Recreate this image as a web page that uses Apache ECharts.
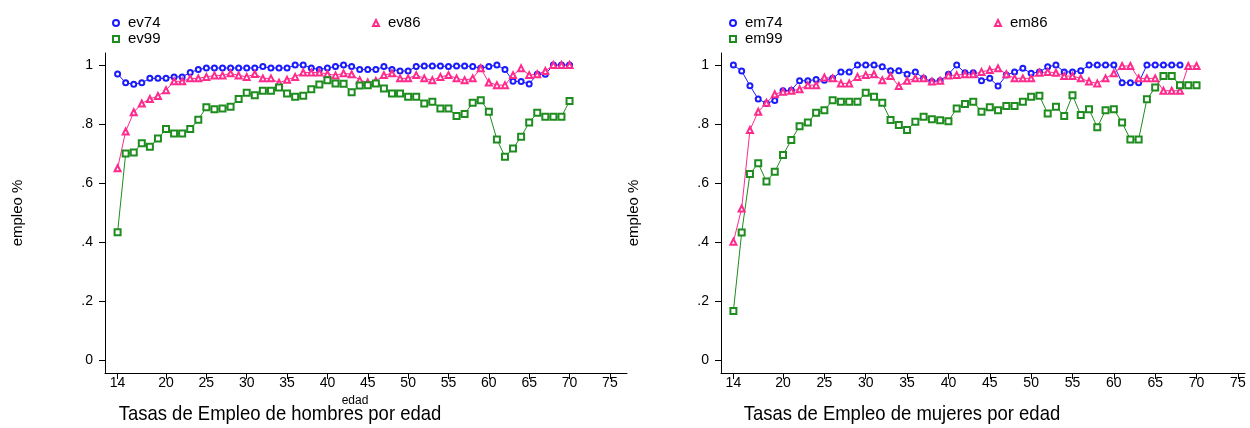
<!DOCTYPE html>
<html><head><meta charset="utf-8">
<script src="https://cdn.jsdelivr.net/npm/echarts@6/dist/echarts.min.js"></script>
<style>html,body{margin:0;padding:0;background:#fff}#c{width:1250px;height:428px}</style>
</head><body><div id="c"></div>
<script>
// ---- data ----
const ages = [14,15,16,17,18,19,20,21,22,23,24,25,26,27,28,29,30,31,32,33,34,35,36,37,38,39,40,41,42,43,44,45,46,47,48,49,50,51,52,53,54,55,56,57,58,59,60,61,62,63,64,65,66,67,68,69,70];
const xTicks = [14,20,25,30,35,40,45,50,55,60,65,70,75];
const yTicks = [0,0.2,0.4,0.6,0.8,1];
const yTickLabels = ['0','.2','.4','.6','.8','1'];
const titles = ['Tasas de Empleo de hombres por edad', 'Tasas de Empleo de mujeres por edad'];

const ev74 = [.97,.94,.935,.94,.955,.955,.955,.96,.96,.975,.985,.99,.99,.99,.99,.99,.99,.99,.995,.99,.99,.99,1.0,1.0,.99,.985,.99,.995,1.0,.995,.985,.985,.985,.995,.985,.98,.98,.995,.997,.997,.997,.995,.997,.997,.995,.99,.995,1.0,.985,.945,.944,.936,.969,.969,1.0,1.0,1.0];
const ev86 = [.65,.775,.84,.87,.885,.895,.915,.945,.945,.955,.955,.96,.965,.965,.972,.965,.96,.97,.955,.955,.94,.95,.96,.975,.975,.975,.97,.965,.972,.969,.949,.941,.946,.966,.972,.955,.955,.966,.955,.949,.96,.966,.955,.949,.955,.989,.941,.932,.932,.966,.989,.966,.969,.98,1.0,1.0,1.0];
const ev99 = [.433,.70,.704,.735,.723,.751,.783,.768,.768,.783,.815,.857,.85,.853,.859,.885,.906,.898,.913,.913,.924,.904,.893,.896,.918,.934,.949,.938,.937,.908,.931,.932,.938,.921,.904,.904,.893,.893,.870,.876,.853,.853,.827,.834,.872,.881,.842,.748,.689,.717,.757,.805,.838,.825,.825,.825,.878];

const em74 = [1.0,.98,.93,.885,.87,.88,.913,.915,.947,.947,.951,.949,.955,.977,.977,1.0,1.0,1.0,.994,.981,.981,.969,.977,.955,.944,.947,.969,1.0,.974,.974,.947,.955,.929,.966,.977,.989,.972,.977,.994,1.0,.977,.977,.981,1.0,1.0,1.0,1.0,.94,.94,.94,1.0,1.0,1.0,1.0,1.0];
const em86 = [.401,.514,.78,.842,.872,.901,.91,.913,.918,.932,.932,.958,.955,.938,.938,.96,.966,.969,.949,.963,.929,.947,.955,.955,.944,.947,.965,.966,.969,.969,.977,.983,.989,.969,.955,.955,.955,.974,.977,.974,.963,.963,.955,.944,.938,.955,.972,.997,.997,.955,.955,.955,.913,.913,.913,.997,.997];
const em99 = [.166,.432,.631,.667,.605,.638,.695,.746,.793,.805,.838,.847,.881,.876,.876,.876,.906,.893,.872,.814,.797,.78,.808,.825,.816,.813,.81,.853,.868,.876,.842,.857,.847,.861,.861,.876,.893,.896,.836,.859,.827,.898,.831,.85,.789,.847,.85,.805,.748,.748,.884,.924,.963,.963,.932,.932,.932];

// ---- chart ----
const FONT = 'Liberation Sans, Arial, sans-serif';
const BLUE = '#1a1aff', PINK = '#ff2a8c', GREEN = '#1e8c1e';
const zip = vals => vals.map((v, i) => [ages[i], v]);
const yFmt = v => { const i = yTicks.findIndex(t => Math.abs(t - v) < 1e-9); return i < 0 ? '' : yTickLabels[i]; };

function xAxis(gi, min, max, showName) {
  return {
    type: 'value', gridIndex: gi, min: min, max: max,
    name: showName ? 'edad' : '', nameLocation: 'middle', nameGap: 19,
    nameTextStyle: { fontFamily: FONT, fontSize: 12, color: '#000', padding: [0, 22, 0, 0] },
    axisLine: { show: true, onZero: false, lineStyle: { color: '#000', width: 1 } },
    axisTick: { show: true, length: 6, customValues: xTicks, lineStyle: { color: '#000' } },
    axisLabel: { customValues: xTicks, fontFamily: FONT, fontSize: 14, color: '#000', margin: 3 },
    splitLine: { show: false }
  };
}
function yAxis(gi) {
  return {
    type: 'value', gridIndex: gi, min: -0.044, max: 1.041,
    name: 'empleo %', nameLocation: 'middle', nameRotate: 90, nameGap: 80,
    nameTextStyle: { fontFamily: FONT, fontSize: 15, color: '#000' },
    axisLine: { show: true, onZero: false, lineStyle: { color: '#000', width: 1 } },
    axisTick: { show: true, length: 6, customValues: yTicks, lineStyle: { color: '#000' } },
    axisLabel: { customValues: yTicks, formatter: yFmt, fontFamily: FONT, fontSize: 14, color: '#000', margin: 12 },
    splitLine: { show: false }
  };
}
function ser(name, vals, gi, color, symbol, size) {
  return {
    name: name, type: 'line', xAxisIndex: gi, yAxisIndex: gi, data: zip(vals),
    symbol: symbol, symbolSize: size, showAllSymbol: true,
    lineStyle: { color: color, width: 1 }, itemStyle: { color: color, borderWidth: 1 },
    emphasis: { disabled: true }
  };
}
function legend(items, left, top) {
  return {
    orient: 'vertical', left: left, top: top, itemGap: 0, itemWidth: 6, itemHeight: 6,
    data: items, selectedMode: false,
    textStyle: { fontFamily: FONT, fontSize: 15, color: '#000', lineHeight: 16, padding: [0, 0, 0, 4] }
  };
}
function titleText(text, cx) {
  return {
    type: 'text', x: cx, y: 414, scaleX: 0.88, silent: true,
    style: { text: text, font: '21px ' + FONT, fill: '#000', textAlign: 'center', textVerticalAlign: 'middle' }
  };
}

const chart = echarts.init(document.getElementById('c'), null, { renderer: 'canvas' });
chart.setOption({
  animation: false,
  backgroundColor: '#fff',
  graphic: [titleText(titles[0], 280), titleText(titles[1], 902)],
  legend: [
    legend([{ name: 'ev74', icon: 'emptyCircle' }, { name: 'ev99', icon: 'emptyRect' }], 107, 10),
    legend([{ name: 'ev86', icon: 'emptyTriangle' }], 367, 10),
    legend([{ name: 'em74', icon: 'emptyCircle' }, { name: 'em99', icon: 'emptyRect' }], 724, 10),
    legend([{ name: 'em86', icon: 'emptyTriangle' }], 989, 10)
  ],
  grid: [
    { left: 105, top: 53, width: 522, height: 320 },
    { left: 721, top: 53, width: 524, height: 320 }
  ],
  xAxis: [xAxis(0, 12.44, 77.12, true), xAxis(1, 12.50, 75.86, false)],
  yAxis: [yAxis(0), yAxis(1)],
  series: [
    ser('ev74', ev74, 0, BLUE, 'emptyCircle', 5),
    ser('ev86', ev86, 0, PINK, 'emptyTriangle', 6),
    ser('ev99', ev99, 0, GREEN, 'emptyRect', 6),
    ser('em74', em74, 1, BLUE, 'emptyCircle', 5),
    ser('em86', em86, 1, PINK, 'emptyTriangle', 6),
    ser('em99', em99, 1, GREEN, 'emptyRect', 6)
  ]
});
</script>
</body></html>
